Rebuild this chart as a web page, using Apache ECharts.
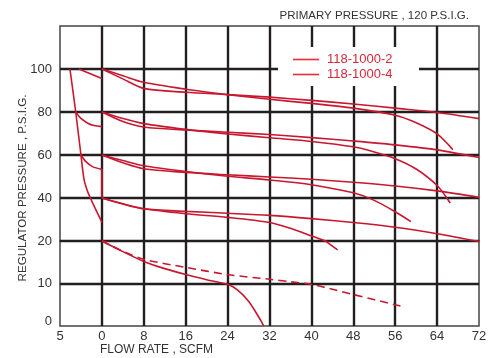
<!DOCTYPE html>
<html>
<head>
<meta charset="utf-8">
<script src="https://cdn.jsdelivr.net/npm/echarts@6/dist/echarts.min.js"></script>
<style>
html,body{margin:0;padding:0;background:#fff;}
#chart{width:499px;height:358px;}
</style>
</head>
<body>
<div id="chart"></div>
<script>
// ---------- tick labels ----------
const xTickValues = [-8, 0, 8, 16, 24, 32, 40, 48, 56, 64, 72];
const xTickLabels = ['5', '0', '8', '16', '24', '32', '40', '48', '56', '64', '72'];

// ---------- 118-1000-2 (flatter curves) ----------
const flowFlat   = [0, 4, 8, 16, 24, 32, 40, 48, 56, 64, 72];
const psi100Flat = [100, 95.4, 91.0, 89.2, 88.1, 86.9, 85.4, 83.7, 81.8, 79.8, 76.9];
const psi80Flat  = [80, 75.6, 73.0, 71.6, 70.6, 69.5, 68.1, 66.5, 64.7, 62.4, 58.8];
const psi60Flat  = [60, 56.4, 53.6, 51.9, 50.8, 49.8, 48.7, 47.3, 45.6, 43.3, 40.3];
const psi40Flat  = [40, 37.2, 35.0, 33.8, 32.9, 31.9, 30.4, 28.6, 26.4, 23.4, 19.8];
const flow20Solid = [0, 4, 8, 12, 16, 20, 24, 26, 28, 30, 30.9];
const psi20Solid  = [20, 17.5, 15.2, 13.5, 12.1, 10.9, 9.8, 8.4, 5.8, 2.0, 0];

// ---------- 118-1000-4 (drooping curves) ----------
const flow100Droop = [0, 4, 8, 16, 24, 32, 40, 48, 56, 60, 64, 67];
const psi100Droop  = [100, 96.9, 93.8, 90.6, 88.1, 85.9, 84.0, 81.8, 78.5, 75.0, 69.8, 62.5];
const flow80Droop  = [0, 4, 8, 16, 24, 32, 40, 48, 52, 56, 60, 64, 66.5];
const psi80Droop   = [80, 77.0, 74.6, 71.9, 69.8, 68.0, 66.3, 63.8, 61.4, 58.3, 53.5, 45.8, 37.7];
const flow60Droop  = [0, 4, 8, 16, 24, 32, 40, 48, 52, 56, 59];
const psi60Droop   = [60, 57.4, 55.0, 52.3, 50.1, 48.4, 46.2, 42.4, 38.9, 33.6, 29.0];
const flow40Droop  = [0, 4, 8, 16, 24, 32, 36, 40, 45];
const psi40Droop   = [40, 37.3, 35.0, 32.7, 31.0, 28.6, 25.9, 22.4, 17.9];
const flow20Dash   = [0, 4, 8, 16, 24, 32, 36, 40, 48, 57];
const psi20Dash    = [20, 17.6, 15.7, 13.8, 12.1, 11.0, 10.4, 9.8, 7.4, 4.7];

// ---------- reverse-flow (relief) curves ----------
const flowReliefMain = [-6.1, -5.0, -4.0, -3.4, -2.8, -2.2, -1.5, -0.7, 0];
const psiReliefMain  = [100, 80, 60, 48.5, 43.5, 40, 36.3, 32.3, 28.7];
const flowRelief100  = [-4.4, 0];
const psiRelief100   = [100, 95.6];
const flowRelief80   = [-5.0, -4.0, -2.7, -1.5, 0];
const psiRelief80    = [80, 77.0, 74.8, 73.7, 73.2];
const flowRelief60   = [-4.0, -3.05, -1.8, 0];
const psiRelief60    = [60, 56.9, 54.6, 53.3];
const flowReliefVert = [0, 0];
const psiReliefVert  = [53.5, 40];

// ---------- build ----------
const FONT = '"Liberation Sans", Arial, sans-serif';
const CURVE = '#c8172f';
const LEGEND_RED = '#ea2a35';
const TEXT = '#333333';
const GRIDLINE = '#231f20';

function pairs(xs, ys) { return xs.map((x, i) => [x, ys[i]]); }

const curves = [
  { name: '118-1000-2', x: flowFlat, y: psi100Flat },
  { name: '118-1000-2', x: flowFlat, y: psi80Flat },
  { name: '118-1000-2', x: flowFlat, y: psi60Flat },
  { name: '118-1000-2', x: flowFlat, y: psi40Flat },
  { name: '118-1000-2', x: flow20Solid, y: psi20Solid },
  { name: '118-1000-4', x: flow100Droop, y: psi100Droop },
  { name: '118-1000-4', x: flow80Droop, y: psi80Droop },
  { name: '118-1000-4', x: flow60Droop, y: psi60Droop },
  { name: '118-1000-4', x: flow40Droop, y: psi40Droop },
  { name: '118-1000-4', x: flow20Dash, y: psi20Dash, dash: true },
  { name: 'relief', x: flowReliefMain, y: psiReliefMain },
  { name: 'relief', x: flowRelief100, y: psiRelief100, smooth: false },
  { name: 'relief', x: flowRelief80, y: psiRelief80 },
  { name: 'relief', x: flowRelief60, y: psiRelief60 },
  { name: 'relief', x: flowReliefVert, y: psiReliefVert, smooth: false }
];

const series = [];
[0, 1].forEach(gi => {
  curves.forEach(c => {
    series.push({
      type: 'line',
      name: c.name,
      xAxisIndex: gi,
      yAxisIndex: gi,
      data: pairs(c.x, c.y),
      smooth: c.smooth === false ? false : 0.3,
      symbol: 'none',
      clip: true,
      silent: true,
      z: 3,
      itemStyle: { color: CURVE },
      lineStyle: { color: CURVE, width: 1.6, type: c.dash ? [8, 5] : 'solid' }
    });
  });
});

const splitStyle = { color: GRIDLINE, width: 2.4 };

const option = {
  animation: false,
  backgroundColor: '#ffffff',
  textStyle: { fontFamily: FONT },
  title: {
    text: 'PRIMARY PRESSURE , 120 P.S.I.G.',
    right: 30, top: 10, padding: 0,
    textStyle: { fontFamily: FONT, fontSize: 11.5, fontWeight: 'normal', color: TEXT }
  },
  legend: {
    orient: 'vertical',
    left: 293, top: 53, padding: 0,
    itemGap: 2,
    itemWidth: 26, itemHeight: 1.6,
    icon: 'rect',
    selectedMode: false,
    textStyle: { fontFamily: FONT, fontSize: 13, color: '#d42a3a', padding: [0, 0, 0, 3] },
    data: [
      { name: '118-1000-2', itemStyle: { color: LEGEND_RED } },
      { name: '118-1000-4', itemStyle: { color: LEGEND_RED } }
    ]
  },
  grid: [
    { left: 60, right: 20, top: 26, height: 215, show: true, borderColor: '#444', borderWidth: 1.5, backgroundColor: 'transparent' },
    { left: 60, right: 20, top: 241, height: 85, show: true, borderColor: '#444', borderWidth: 1.5, backgroundColor: 'transparent' }
  ],
  xAxis: [
    {
      type: 'value', gridIndex: 0, min: -8, max: 72, interval: 8,
      axisLine: { show: false }, axisTick: { show: false }, axisLabel: { show: false },
      splitLine: { show: true, showMinLine: false, showMaxLine: false, lineStyle: splitStyle }
    },
    {
      type: 'value', gridIndex: 1, min: -8, max: 72, interval: 8,
      axisLine: { show: false }, axisTick: { show: false },
      axisLabel: {
        show: true, margin: 4, fontSize: 13, color: TEXT, fontFamily: FONT,
        formatter: v => { const i = xTickValues.indexOf(v); return i >= 0 ? xTickLabels[i] : ''; }
      },
      splitLine: { show: true, showMinLine: false, showMaxLine: false, lineStyle: splitStyle },
      name: 'FLOW RATE , SCFM',
      nameLocation: 'middle',
      nameGap: 17,
      nameTextStyle: { fontFamily: FONT, fontSize: 12, color: TEXT, padding: [0, 226, 0, 0] }
    }
  ],
  yAxis: [
    {
      type: 'value', gridIndex: 0, min: 20, max: 120, interval: 20,
      axisLine: { show: false }, axisTick: { show: false },
      axisLabel: { show: true, margin: 8, fontSize: 13, color: TEXT, fontFamily: FONT, showMaxLabel: false },
      splitLine: { show: true, showMinLine: true, showMaxLine: false, lineStyle: splitStyle }
    },
    {
      type: 'value', gridIndex: 1, min: 0, max: 20, interval: 10,
      axisLine: { show: false }, axisTick: { show: false },
      axisLabel: {
        show: true, margin: 8, fontSize: 13, color: TEXT, fontFamily: FONT, showMaxLabel: false,
        formatter: v => v === 0 ? '{lo|0}' : String(v),
        rich: { lo: { fontSize: 13, color: TEXT, fontFamily: FONT, padding: [0, 0, 10, 0] } }
      },
      splitLine: { show: true, showMinLine: false, showMaxLine: false, lineStyle: splitStyle }
    }
  ],
  graphic: [
    {
      type: 'rect', z: 1,
      shape: { x: 278, y: 47, width: 141, height: 39 },
      style: { fill: '#ffffff' }
    },
    {
      type: 'text', x: 23, y: 188, rotation: Math.PI / 2, z: 5,
      style: {
        text: 'REGULATOR PRESSURE , P.S.I.G.',
        font: '11.6px "Liberation Sans", Arial, sans-serif',
        fill: TEXT, align: 'center', verticalAlign: 'middle'
      }
    }
  ],
  series: series
};

const chart = echarts.init(document.getElementById('chart'), null, { renderer: 'canvas' });
chart.setOption(option);
</script>
</body>
</html>
